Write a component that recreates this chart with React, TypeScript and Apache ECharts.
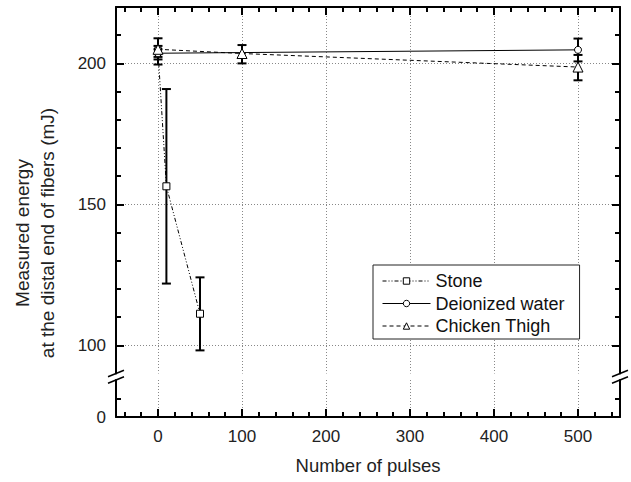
import React, { useEffect, useRef } from 'react';
import * as echarts from 'echarts';

const FONT = '"Liberation Sans", Arial, Helvetica, sans-serif';

// Data
const stoneX = [0, 10, 50];
const stoneY = [204.3, 156.4, 111.2];
const stoneLow = [199.6, 121.9, 98.2];
const stoneHigh = [208.9, 190.9, 124.1];

const waterX = [0, 500];
const waterY = [203.6, 204.8];
const waterLow = [202.3, 200.7];
const waterHigh = [205.0, 208.8];

const chickenX = [0, 100, 500];
const chickenY = [205.0, 203.5, 198.7];
const chickenLow = [201.4, 200.0, 194.0];
const chickenHigh = [206.2, 206.5, 203.0];

const seriesNames = ['Stone', 'Deionized water', 'Chicken Thigh'];

// Axis ticks
const xMajorTicks = [0, 100, 200, 300, 400, 500];
const xMinorTicks = [-40, -20, 20, 40, 60, 80, 120, 140, 160, 180, 220, 240, 260, 280, 320, 340, 360, 380, 420, 440, 460, 480, 520, 540];
const yUpperMajorTicks = [100, 150, 200];
const yUpperMinorTicks = [110, 120, 130, 140, 160, 170, 180, 190, 210];
const yLowerMajorTicks = [0];
const yLowerMinorTicks = [5];

const X_MIN = -50;
const X_MAX = 550;
const Y_UP_MIN = 90;
const Y_UP_MAX = 220;
const Y_LOW_MIN = 0;
const Y_LOW_MAX = 10;

// layout
const GRID_LEFT = 116;
const GRID_RIGHT_X = 620;
const UP_TOP = 7;
const UP_BOTTOM = 373.5;
const LOW_TOP = 380;
const LOW_BOTTOM = 417;

const dotted = { show: true, lineStyle: { color: '#888', width: 1, type: [1, 2] as any } };
const axisLineOn = { show: true, onZero: false, lineStyle: { color: '#000', width: 2 } };
const axisLineOff = { show: false, onZero: false };

function tickAxis(base: any, ticks: number[], len: number, opts: any = {}) {
  return {
    type: 'value',
    ...base,
    axisLine: opts.line ? axisLineOn : axisLineOff,
    axisTick: { show: true, inside: true, length: len, customValues: ticks, lineStyle: { color: '#000', width: 2 } },
    axisLabel: opts.labels
      ? { show: true, customValues: opts.labels, fontSize: 17, fontFamily: FONT, color: '#222', margin: opts.margin ?? 10 }
      : { show: false },
    splitLine: opts.split ? dotted : { show: false },
  };
}

const errorRender = (params: any, api: any) => {
  const x = api.value(0);
  const lo = api.coord([x, api.value(1)]);
  const hi = api.coord([x, api.value(2)]);
  const w = 4.5;
  const style = { stroke: '#000', lineWidth: 2 };
  return {
    type: 'group',
    children: [
      { type: 'line', shape: { x1: lo[0], y1: lo[1], x2: hi[0], y2: hi[1] }, style },
      { type: 'line', shape: { x1: lo[0] - w, y1: lo[1], x2: lo[0] + w, y2: lo[1] }, style },
      { type: 'line', shape: { x1: hi[0] - w, y1: hi[1], x2: hi[0] + w, y2: hi[1] }, style },
    ],
  };
};

function errSeries(name: string, xs: number[], lows: number[], highs: number[]) {
  return {
    type: 'custom',
    name,
    xAxisIndex: 0,
    yAxisIndex: 0,
    z: 1,
    silent: true,
    renderItem: errorRender,
    encode: { x: 0, y: [1, 2] },
    data: xs.map((x, i) => [x, lows[i], highs[i]]),
  };
}

function lineSeries(name: string, xs: number[], ys: number[], symbol: string, size: number, dash: any) {
  return {
    type: 'line',
    name,
    xAxisIndex: 0,
    yAxisIndex: 0,
    z: 3,
    symbol,
    symbolSize: size,
    showAllSymbol: true,
    itemStyle: { color: '#fff', borderColor: '#000', borderWidth: 1 },
    lineStyle: { color: '#000', width: 1, type: dash },
    emphasis: { disabled: true },
    data: xs.map((x, i) => [x, ys[i]]),
  };
}

function breakMarks(x: number) {
  return [UP_BOTTOM, LOW_TOP].map((yc) => ({
    type: 'line',
    shape: { x1: x - 8, y1: yc + 3.2, x2: x + 8, y2: yc - 3.2 },
    style: { stroke: '#000', lineWidth: 1.5 },
    z: 100,
  }));
}

export default function App() {
  const ref = useRef<HTMLDivElement>(null);

  useEffect(() => {
    if (!ref.current) return;
    const chart = echarts.init(ref.current, undefined, { renderer: 'svg' });
    const upX = { gridIndex: 0, min: X_MIN, max: X_MAX };
    const lowX = { gridIndex: 1, min: X_MIN, max: X_MAX };
    const upY = { gridIndex: 0, min: Y_UP_MIN, max: Y_UP_MAX };
    const lowY = { gridIndex: 1, min: Y_LOW_MIN, max: Y_LOW_MAX };

    const option: any = {
      animation: false,
      backgroundColor: '#fff',
      grid: [
        { left: GRID_LEFT, top: UP_TOP, width: GRID_RIGHT_X - GRID_LEFT, height: UP_BOTTOM - UP_TOP },
        { left: GRID_LEFT, top: LOW_TOP, width: GRID_RIGHT_X - GRID_LEFT, height: LOW_BOTTOM - LOW_TOP },
      ],
      xAxis: [
        // upper grid: vertical dotted grid lines
        { ...tickAxis({ ...upX, position: 'bottom' }, xMajorTicks, 0, { split: true }), axisTick: { show: false, customValues: xMajorTicks } },
        tickAxis({ ...upX, position: 'top' }, xMajorTicks, 8, { line: true }),
        tickAxis({ ...upX, position: 'top' }, xMinorTicks, 5),
        tickAxis({ ...lowX, position: 'bottom' }, xMajorTicks, 8, { line: true, split: true, labels: xMajorTicks, margin: 11 }),
        tickAxis({ ...lowX, position: 'bottom' }, xMinorTicks, 5),
      ],
      yAxis: [
        tickAxis({ ...upY, position: 'left' }, yUpperMajorTicks, 8, { line: true, split: true, labels: yUpperMajorTicks }),
        tickAxis({ ...upY, position: 'left' }, yUpperMinorTicks, 5),
        tickAxis({ ...upY, position: 'right' }, yUpperMajorTicks, 8, { line: true }),
        tickAxis({ ...upY, position: 'right' }, yUpperMinorTicks, 5),
        tickAxis({ ...lowY, position: 'left' }, yLowerMinorTicks, 5, { line: true, labels: yLowerMajorTicks }),
        tickAxis({ ...lowY, position: 'right' }, yLowerMinorTicks, 5, { line: true }),
      ],
      legend: {
        orient: 'vertical',
        left: 373,
        top: 265,
        data: seriesNames,
        itemWidth: 48,
        itemHeight: 8,
        itemGap: 4.5,
        padding: [7, 15, 4, 9],
        borderColor: '#222',
        borderWidth: 1,
        borderRadius: 0,
        backgroundColor: '#fff',
        selectedMode: false,
        lineStyle: { width: 1 },
        itemStyle: { borderWidth: 1 },
        textStyle: { fontSize: 18, fontFamily: FONT, color: '#111' },
        z: 50,
      },
      graphic: [
        {
          type: 'text',
          x: 35,
          y: 233,
          rotation: Math.PI / 2,
          style: {
            text: 'Measured energy\nat the distal end of fibers (mJ)',
            fontSize: 19,
            fontFamily: FONT,
            fill: '#222',
            textAlign: 'center',
            textVerticalAlign: 'middle',
            lineHeight: 25,
          },
        },
        {
          type: 'text',
          x: 368,
          y: 465,
          style: {
            text: 'Number of pulses',
            fontSize: 18.5,
            fontFamily: FONT,
            fill: '#222',
            textAlign: 'center',
            textVerticalAlign: 'middle',
          },
        },
        ...breakMarks(GRID_LEFT),
        ...breakMarks(GRID_RIGHT_X),
      ],
      series: [
        errSeries('Stone error', stoneX, stoneLow, stoneHigh),
        errSeries('Deionized water error', waterX, waterLow, waterHigh),
        errSeries('Chicken Thigh error', chickenX, chickenLow, chickenHigh),
        lineSeries('Stone', stoneX, stoneY, 'rect', 7, [4, 2, 1, 2, 1, 2]),
        lineSeries('Deionized water', waterX, waterY, 'circle', 7, 'solid'),
        lineSeries('Chicken Thigh', chickenX, chickenY, 'triangle', 10, [4, 3]),
      ],
    };
    chart.setOption(option);
    return () => chart.dispose();
  }, []);

  return (
    <div
      ref={ref}
      style={{ position: 'fixed', left: 0, top: 0, width: 631, height: 482, background: '#fff' }}
    />
  );
}
